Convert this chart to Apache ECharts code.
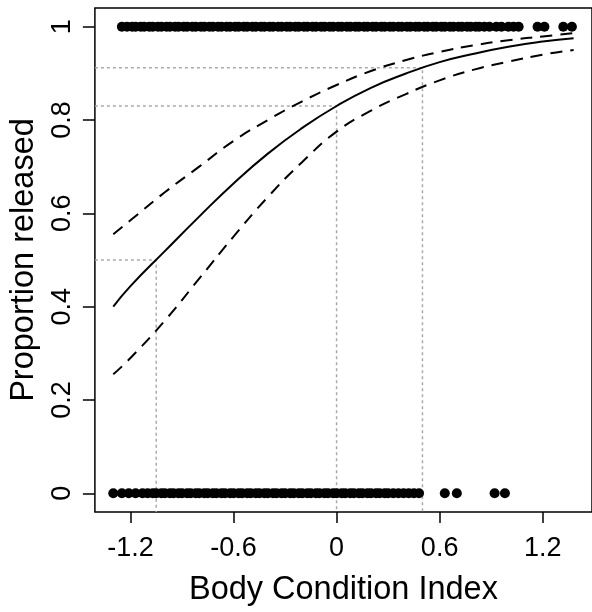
<!DOCTYPE html>
<html>
<head>
<meta charset="utf-8">
<script src="https://cdn.jsdelivr.net/npm/echarts@6/dist/echarts.min.js"></script>
<style>html,body{margin:0;padding:0;background:#fff}#c{width:592px;height:612px}</style>
</head>
<body>
<div id="c"></div>
<script>
// Observations (x = body condition index)
var releasedX = [-1.25,-1.22,-1.19,-1.17,-1.14,-1.12,-1.09,-1.07,-1.04,-1.02,-0.99,-0.97,-0.94,-0.92,-0.89,-0.87,-0.84,-0.82,-0.79,-0.77,-0.74,-0.72,-0.69,-0.67,-0.64,-0.62,-0.59,-0.57,-0.54,-0.52,-0.49,-0.47,-0.44,-0.42,-0.39,-0.37,-0.34,-0.32,-0.29,-0.27,-0.24,-0.22,-0.19,-0.17,-0.14,-0.12,-0.09,-0.07,-0.04,-0.02,0.01,0.03,0.06,0.08,0.11,0.13,0.16,0.18,0.21,0.23,0.26,0.28,0.31,0.33,0.36,0.38,0.41,0.43,0.46,0.48,0.51,0.53,0.56,0.58,0.61,0.63,0.66,0.68,0.71,0.73,0.76,0.78,0.81,0.83,0.86,0.89,0.93,0.96,1.00,1.03,1.06,1.17,1.21,1.32,1.37];
var notReleasedX = [-1.30,-1.25,-1.21,-1.17,-1.13,-1.10,-1.07,-1.05,-1.02,-1.00,-0.97,-0.95,-0.92,-0.90,-0.87,-0.85,-0.82,-0.80,-0.77,-0.75,-0.72,-0.70,-0.67,-0.65,-0.62,-0.60,-0.57,-0.55,-0.52,-0.50,-0.47,-0.45,-0.42,-0.40,-0.37,-0.35,-0.32,-0.30,-0.27,-0.25,-0.22,-0.20,-0.17,-0.15,-0.12,-0.10,-0.07,-0.05,-0.02,0.00,0.03,0.05,0.08,0.10,0.13,0.15,0.18,0.20,0.23,0.25,0.28,0.30,0.33,0.36,0.39,0.42,0.45,0.48,0.63,0.70,0.92,0.98];

// Fitted curve and confidence band
var curveX   = [-1.30,-1.20,-1.00,-0.80,-0.60,-0.40,-0.20,0.00,0.20,0.40,0.60,0.80,1.00,1.20,1.38];
var fitY     = [0.400,0.444,0.519,0.593,0.664,0.728,0.783,0.830,0.869,0.899,0.924,0.942,0.957,0.968,0.975];
var upperY   = [0.555,0.585,0.645,0.700,0.755,0.800,0.840,0.875,0.905,0.928,0.946,0.960,0.971,0.979,0.986];
var lowerY   = [0.255,0.290,0.370,0.460,0.550,0.635,0.710,0.775,0.820,0.855,0.885,0.908,0.925,0.940,0.950];

// Reference lines
var refX = [-1.05, 0, 0.5];
var refY = [0.5, 0.83, 0.912];

var xTicks = [-1.2,-0.6,0,0.6,1.2];
var yTicks = [0,0.2,0.4,0.6,0.8,1];
var xMin = -1.407, xMax = 1.487, yMin = -0.04, yMax = 1.04;

function pairs(xs, ys){ return xs.map(function(x,i){ return [x, ys[i]]; }); }
function constY(xs, v){ return xs.map(function(x){ return [x, v]; }); }

var FONT = '"Liberation Sans", Arial, sans-serif';
var series = [];
refX.forEach(function(rx, i){
  series.push({
    type:'line', data:[[xMin, refY[i]],[rx, refY[i]],[rx, yMin]],
    symbol:'none', silent:true, z:1,
    lineStyle:{color:'#aaaaaa', width:1.5, type:[3,3]}
  });
});
series.push({type:'line', data:pairs(curveX, upperY), smooth:true, symbol:'none', z:2,
  lineStyle:{color:'#000', width:2, type:[12,8]}});
series.push({type:'line', data:pairs(curveX, lowerY), smooth:true, symbol:'none', z:2,
  lineStyle:{color:'#000', width:2, type:[12,8]}});
series.push({type:'line', data:pairs(curveX, fitY), smooth:true, symbol:'none', z:3,
  lineStyle:{color:'#000', width:2}});
series.push({type:'scatter', data:constY(releasedX, 1), symbol:'circle', symbolSize:10, z:4,
  itemStyle:{color:'#000', opacity:1}});
series.push({type:'scatter', data:constY(notReleasedX, 0), symbol:'circle', symbolSize:10, z:4,
  itemStyle:{color:'#000', opacity:1}});

var chart = echarts.init(document.getElementById('c'), null, {renderer:'canvas'});
chart.setOption({
  animation:false,
  backgroundColor:'#fff',
  grid:{left:94, top:8, right:-9, bottom:98, show:true, borderColor:'#000', borderWidth:1.5, backgroundColor:'transparent'},
  xAxis:{
    type:'value', min:xMin, max:xMax,
    axisLine:{show:false, onZero:false},
    splitLine:{show:false},
    axisTick:{show:true, customValues:xTicks, length:11, inside:false, lineStyle:{color:'#000', width:1.5}},
    axisLabel:{customValues:xTicks, fontSize:27, color:'#000', fontFamily:FONT, margin:23,
      formatter:function(v){ return String(v); }},
    name:'Body Condition Index', nameLocation:'middle', nameGap:62,
    nameTextStyle:{fontSize:32.5, color:'#000', fontFamily:FONT}
  },
  yAxis:{
    type:'value', min:yMin, max:yMax,
    axisLine:{show:false, onZero:false},
    splitLine:{show:false},
    axisTick:{show:true, customValues:yTicks, length:12, inside:false, lineStyle:{color:'#000', width:1.5}},
    axisLabel:{customValues:yTicks, fontSize:27, color:'#000', fontFamily:FONT, margin:19, rotate:90,
      formatter:function(v){ return String(v); }},
    name:'Proportion released', nameLocation:'middle', nameGap:53, nameRotate:90,
    nameTextStyle:{fontSize:32.5, color:'#000', fontFamily:FONT}
  },
  series:series
});
</script>
</body>
</html>
